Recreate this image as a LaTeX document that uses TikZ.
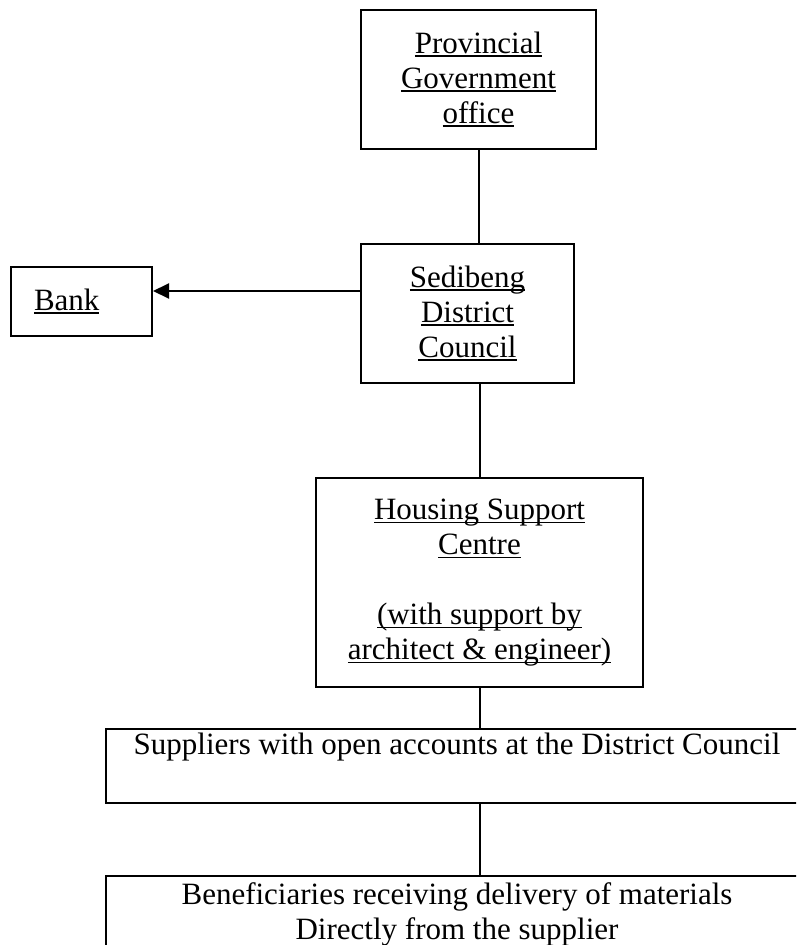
\documentclass[tikz,border=0pt]{standalone}
\usepackage{fontspec}
\setmainfont{Liberation Serif}
\usetikzlibrary{arrows.meta}
% underline that runs through descenders, as in a word processor
\newcommand{\ulword}[1]{\setbox0\hbox{#1}\leavevmode\rlap{\rule[-4pt]{\wd0}{1.8pt}}\box0}

\begin{document}
\begin{tikzpicture}[x=1pt, y=-1pt, line width=2pt,
  box/.style={draw, rectangle, align=center, inner sep=0pt, font=\fontsize{31}{35}\selectfont},
  arr/.style={-{Triangle[length=16pt, width=15pt]}}]
\clip (0,0) rectangle (796,945);
\node[box, minimum width=235pt, minimum height=139pt] (prov) at (478.5,79.5){\ulword{Provincial}\\\ulword{Government}\\\ulword{office}};
\node[box, minimum width=213pt, minimum height=139pt] (sed) at (467.5,313.5){\ulword{Sedibeng}\\\ulword{District}\\\ulword{Council}};
\draw[] (prov.south) -- (prov.south |- sed.north);
\node[box, align=left, text width=95pt, inner xsep=23pt, minimum height=69pt] (bank) at (81.5,301.5){\ulword{Bank}};
\draw[arr] ([yshift=22.5pt]sed.west) -- ([yshift=10.5pt]bank.east);
\node[box, minimum width=327pt, minimum height=209pt] (hsc) at (479.5,582.5){\ulword{Housing Support}\\\ulword{Centre}\\[35pt]\ulword{(with support by}\\\ulword{architect \& engineer)}};
\draw[] (hsc.north) -- (hsc.north |- sed.south);
\node[box, minimum width=702pt, minimum height=74pt] (supp) at (457,766){Suppliers with open accounts at the District Council\\\strut};
\draw[] (hsc.south) -- (hsc.south |- supp.north);
\node[box, anchor=north, minimum width=702pt, inner ysep=7pt] (ben) at (457,875){Beneficiaries receiving delivery of materials\\Directly from the supplier\\\strut};
\draw[] (hsc.south |- supp.south) -- (hsc.south |- ben.north);
\end{tikzpicture}
\end{document}
